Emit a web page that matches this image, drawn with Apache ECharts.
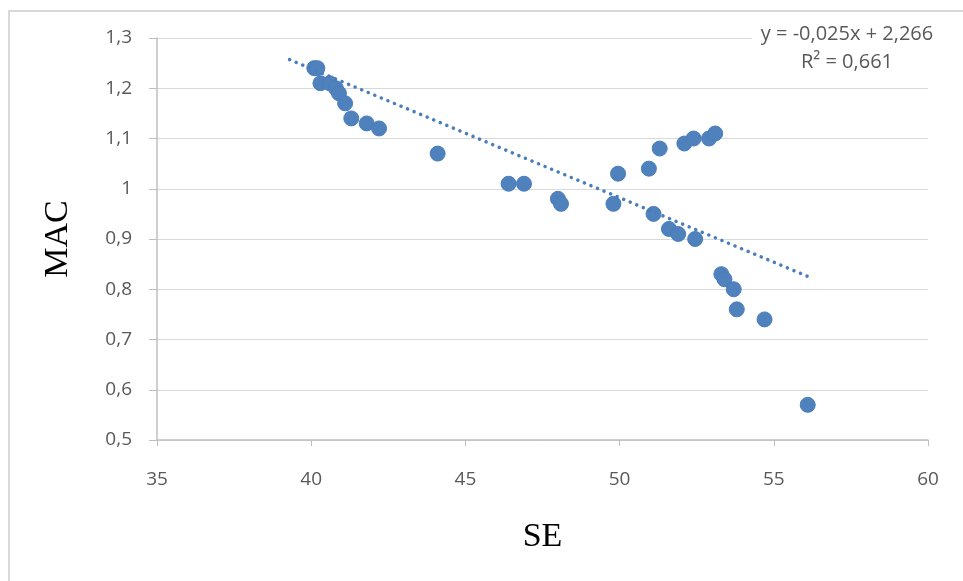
<!DOCTYPE html>
<html>
<head>
<meta charset="utf-8">
<script src="https://cdn.jsdelivr.net/npm/echarts@6/dist/echarts.min.js"></script>
<style>html,body{margin:0;padding:0;background:#fff}#c{width:963px;height:581px}</style>
</head>
<body>
<div id="c"></div>
<script>
const seValues  = [40.1, 40.2, 40.3, 40.6, 40.8, 40.9, 41.1, 41.3, 41.8, 42.2, 44.1, 46.4, 46.9, 48.0, 48.1, 49.8, 49.95, 50.95, 51.1, 51.3, 51.6, 51.9, 52.1, 52.4, 52.45, 52.9, 53.1, 53.3, 53.4, 53.7, 53.8, 54.7, 56.1];
const macValues = [1.24, 1.24, 1.21, 1.21, 1.20, 1.19, 1.17, 1.14, 1.13, 1.12, 1.07, 1.01, 1.01, 0.98, 0.97, 0.97, 1.03, 1.04, 0.95, 1.08, 0.92, 0.91, 1.09, 1.10, 0.90, 1.10, 1.11, 0.83, 0.82, 0.80, 0.76, 0.74, 0.57];
const trendX = [39.3, 56.2];
const trendY = [1.257, 0.823];
const equationLines = ['y = -0,025x + 2,266', 'R² = 0,661'];
const xTitle = 'SE';
const yTitle = 'MAC';

const points = seValues.map((x, i) => [x, macValues[i]]);
const trend = trendX.map((x, i) => [x, trendY[i]]);
const fmt = v => String(+v.toFixed(1)).replace('.', ',');
const tickFont = 'Open Sans, Liberation Sans, sans-serif';

const chart = echarts.init(document.getElementById('c'), null, {renderer: 'canvas'});
chart.setOption({
  animation: false,
  grid: {left: 157, right: 35, top: 38, bottom: 141},
  xAxis: {
    type: 'value', min: 35, max: 60, interval: 5,
    name: xTitle, nameLocation: 'middle', nameGap: 80,
    nameTextStyle: {fontFamily: 'Liberation Serif', fontSize: 34, color: '#000'},
    axisLine: {show: true, lineStyle: {color: '#bfbfbf', width: 1.5}},
    axisTick: {show: true, length: 6, lineStyle: {color: '#bfbfbf'}},
    axisLabel: {margin: 30, fontSize: 19, color: '#595959', fontFamily: tickFont, formatter: fmt},
    splitLine: {show: false}
  },
  yAxis: {
    type: 'value', min: 0.5, max: 1.3, interval: 0.1,
    name: yTitle, nameLocation: 'middle', nameGap: 82, nameRotate: 90,
    nameTextStyle: {fontFamily: 'Liberation Serif', fontSize: 34, color: '#000'},
    axisLine: {show: true, lineStyle: {color: '#bfbfbf', width: 1.5}},
    axisTick: {show: true, length: 8, lineStyle: {color: '#bfbfbf'}},
    axisLabel: {margin: 25, fontSize: 19, color: '#595959', fontFamily: tickFont, formatter: fmt},
    splitLine: {show: true, lineStyle: {color: '#d9d9d9', width: 1}}
  },
  graphic: [
    {type: 'rect', shape: {x: 9, y: 11, width: 1000, height: 1000}, style: {fill: 'none', stroke: '#d9d9d9', lineWidth: 2}, z: 0},
    {type: 'rect', shape: {x: 752, y: 20, width: 192, height: 56}, style: {fill: '#fff'}, z: 10},
    {type: 'text', x: 847, y: 20, z: 11,
     style: {text: equationLines.join('\n'), textAlign: 'center', fontSize: 20, lineHeight: 28, fill: '#595959', fontFamily: tickFont}}
  ],
  series: [
    {
      type: 'scatter', data: points, symbol: 'circle', symbolSize: 15, z: 3,
      itemStyle: {color: '#4f81bd', borderColor: '#4a7ebb', borderWidth: 1, opacity: 1}
    },
    {
      type: 'line', data: trend, symbol: 'none', z: 4,
      lineStyle: {color: '#4a7ebb', width: 3.5, type: [0.1, 7], cap: 'round'}
    }
  ]
});
</script>
</body>
</html>
